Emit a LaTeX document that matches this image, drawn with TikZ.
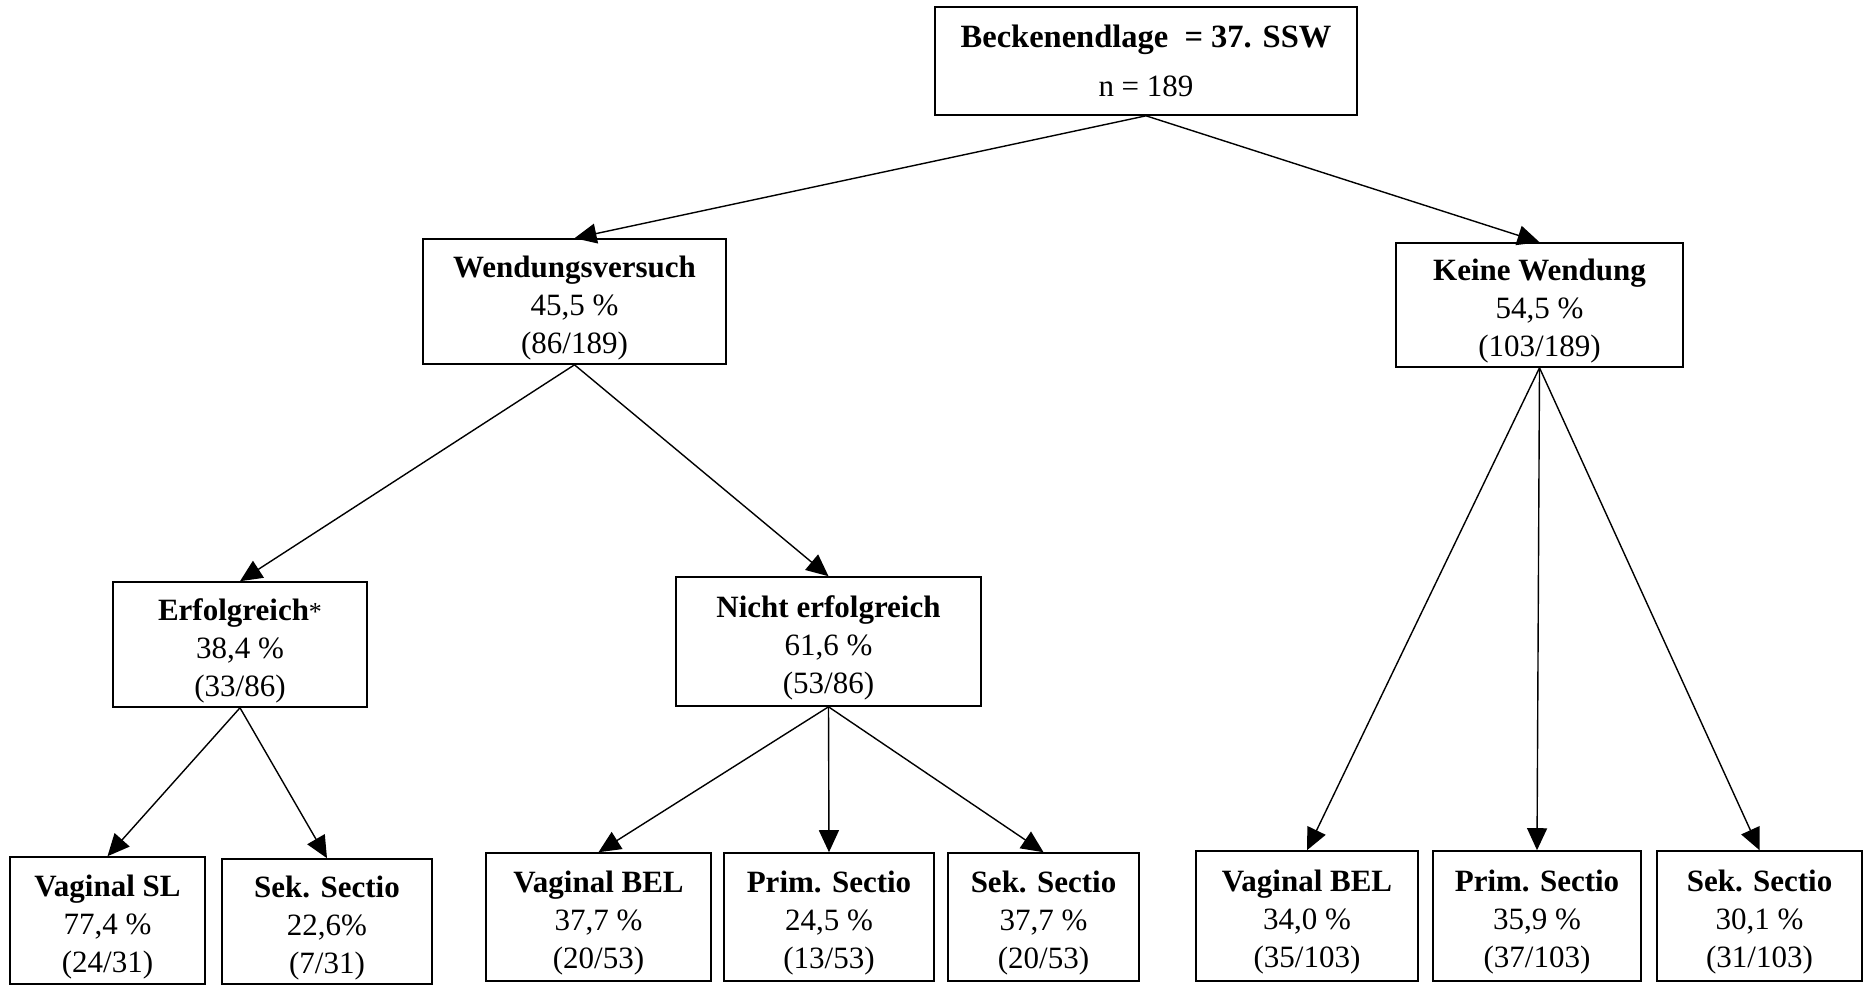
\documentclass[tikz,border=0pt]{standalone}
\usepackage{fontspec}
\setmainfont{Liberation Serif}
\usetikzlibrary{arrows.meta}

\tikzset{
  box/.style={draw, line width=1.6pt, align=center, inner sep=0pt,
    font=\fontsize{31}{38}\selectfont},
  stat/.style={box, text height=110pt},
  arr/.style={line width=1.4pt, -{Triangle[length=22pt, width=20pt]}}
}

\begin{document}
\begin{tikzpicture}[x=1pt, y=-1pt]
          \useasboundingbox (0, 0) rectangle (1867, 986);

          % first level
          \node[box, minimum width=422pt, minimum height=108pt] (top) at (1146, 61)
            {{\bfseries\fontsize{32.5}{37}\selectfont Beckenendlage\hspace{0.5em}= 37. SSW}\\[11pt] n = 189};

          \node[stat, minimum width=303pt, minimum height=125pt] (wend) at (574.5, 301.5)
            {\textbf{Wendungsversuch}\\45,5 \%\\(86/189)};
          \node[stat, minimum width=287pt, minimum height=124pt] (keine) at (1539.5, 305)
            {\textbf{Keine Wendung}\\54,5 \%\\(103/189)};

          % after Wendungsversuch
          \node[stat, minimum width=254pt, minimum height=125pt] (erf) at (240, 644.5)
            {\textbf{Erfolgreich}{\fontsize{26}{37}\selectfont*}\\38,4 \%\\(33/86)};
          \node[stat, minimum width=305pt, minimum height=129pt] (nerf) at (828.5, 641.5)
            {\textbf{Nicht erfolgreich}\\61,6 \%\\(53/86)};

          % bottom row
          \node[stat, minimum width=195pt, minimum height=127pt] (vsl) at (107.5, 920.5)
            {\textbf{Vaginal SL}\\77,4 \%\\(24/31)};
          \node[stat, minimum width=210pt, minimum height=125pt] (sekA) at (327, 921.5)
            {\textbf{Sek. Sectio}\\22,6\%\\(7/31)};

          \node[stat, minimum width=225pt, minimum height=128pt] (vbelB) at (598.5, 917)
            {\textbf{Vaginal BEL}\\37,7 \%\\(20/53)};
          \node[stat, minimum width=210pt, minimum height=128pt] (primB) at (829, 917)
            {\textbf{Prim. Sectio}\\24,5 \%\\(13/53)};
          \node[stat, minimum width=191pt, minimum height=128pt] (sekB) at (1043.5, 917)
            {\textbf{Sek. Sectio}\\37,7 \%\\(20/53)};

          \node[stat, minimum width=222pt, minimum height=130pt] (vbelC) at (1307, 916)
            {\textbf{Vaginal BEL}\\34,0 \%\\(35/103)};
          \node[stat, minimum width=208pt, minimum height=130pt] (primC) at (1537, 916)
            {\textbf{Prim. Sectio}\\35,9 \%\\(37/103)};
          \node[stat, minimum width=205pt, minimum height=130pt] (sekC) at (1759.5, 916)
            {\textbf{Sek. Sectio}\\30,1 \%\\(31/103)};

          % arrows
          \draw[arr] (top.south) -- (wend.north);
          \draw[arr] (top.south) -- (keine.north);
          \draw[arr] (wend.south) -- (erf.north);
          \draw[arr] (wend.south) -- (nerf.north);
          \draw[arr] (erf.south) -- (vsl.north);
          \draw[arr] (erf.south) -- (sekA.north);
          \draw[arr] (nerf.south) -- (vbelB.north);
          \draw[arr] (nerf.south) -- (primB.north);
          \draw[arr] (nerf.south) -- (sekB.north);
          \draw[arr] (keine.south) -- (vbelC.north);
          \draw[arr] (keine.south) -- (primC.north);
          \draw[arr] (keine.south) -- (sekC.north);
        \end{tikzpicture}
\end{document}
